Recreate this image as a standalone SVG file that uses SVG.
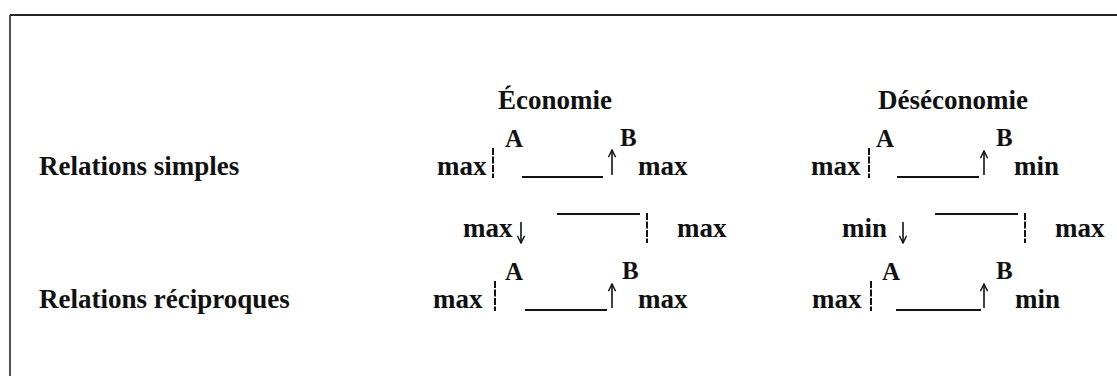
<svg xmlns="http://www.w3.org/2000/svg" width="1117" height="376" viewBox="0 0 1117 376">
<style>
text{font-family:"Liberation Serif","Times New Roman",serif;font-weight:bold;fill:#111;}
.t{font-size:27px;}
.s{font-size:25px;}
.ln{stroke:#111;stroke-width:2;fill:none;}
.bar{stroke:#111;stroke-width:2;fill:none;stroke-dasharray:7 1.5;}
.arr{stroke:#111;stroke-width:1.6;fill:none;}
</style>
<defs>
<marker id="ah" viewBox="0 0 10 10" refX="9" refY="5" markerWidth="9" markerHeight="9" orient="auto" markerUnits="userSpaceOnUse">
<path d="M1,1 L9,5 L1,9" fill="none" stroke="#111" stroke-width="1.6"/>
</marker>
</defs>
<rect width="1117" height="376" fill="#fff"/>
<g id="frame">
<line x1="10" y1="15" x2="1117" y2="15" stroke="#222" stroke-width="2"/>
<line x1="10" y1="15" x2="10" y2="376" stroke="#222" stroke-width="1.6"/>
</g>
<g id="headers">
<text class="t" x="498" y="109">Économie</text>
<text class="t" x="878" y="109">Déséconomie</text>
</g>
<g id="row-labels">
<text class="t" x="39" y="175">Relations simples</text>
<text class="t" x="39" y="308">Relations réciproques</text>
</g>
<g id="simple-eco">
<text class="t" x="437" y="175">max</text>
<text class="s" x="505" y="147">A</text>
<text class="s" x="620" y="146">B</text>
<text class="t" x="638" y="175">max</text>
</g>
<g id="simple-deseco">
<text class="t" x="811" y="175">max</text>
<text class="s" x="876" y="147">A</text>
<text class="s" x="996" y="146">B</text>
<text class="t" x="1014" y="175">min</text>
</g>
<g id="mid-eco">
<text class="t" x="463" y="237">max</text>
<text class="t" x="677" y="237">max</text>
</g>
<g id="mid-deseco">
<text class="t" x="842" y="237">min</text>
<text class="t" x="1055" y="237">max</text>
</g>
<g id="recip-eco">
<text class="t" x="433" y="308">max</text>
<text class="s" x="505" y="280">A</text>
<text class="s" x="622" y="279">B</text>
<text class="t" x="638" y="308">max</text>
</g>
<g id="recip-deseco">
<text class="t" x="812" y="308">max</text>
<text class="s" x="882" y="280">A</text>
<text class="s" x="996" y="279">B</text>
<text class="t" x="1015" y="308">min</text>
</g>
<g id="connectors">
<line class="bar" x1="493" y1="148" x2="493" y2="178"/>
<line class="ln" x1="522" y1="177" x2="603" y2="177"/>
<line class="arr" x1="612" y1="175" x2="612" y2="150" marker-end="url(#ah)"/>
<line class="bar" x1="869" y1="148" x2="869" y2="178"/>
<line class="ln" x1="897" y1="177" x2="979" y2="177"/>
<line class="arr" x1="984" y1="175" x2="984" y2="151" marker-end="url(#ah)"/>
<line class="arr" x1="521" y1="222" x2="521" y2="243" marker-end="url(#ah)"/>
<line class="ln" x1="557" y1="214" x2="640" y2="214"/>
<line class="bar" x1="647" y1="213" x2="647" y2="243"/>
<line class="arr" x1="903" y1="222" x2="903" y2="243" marker-end="url(#ah)"/>
<line class="ln" x1="935" y1="214" x2="1018" y2="214"/>
<line class="bar" x1="1025" y1="213" x2="1025" y2="243"/>
<line class="bar" x1="495" y1="281" x2="495" y2="311"/>
<line class="ln" x1="525" y1="310" x2="607" y2="310"/>
<line class="arr" x1="612" y1="308" x2="612" y2="284" marker-end="url(#ah)"/>
<line class="bar" x1="871" y1="281" x2="871" y2="311"/>
<line class="ln" x1="896" y1="310" x2="981" y2="310"/>
<line class="arr" x1="984" y1="308" x2="984" y2="284" marker-end="url(#ah)"/>
</g>
</svg>
